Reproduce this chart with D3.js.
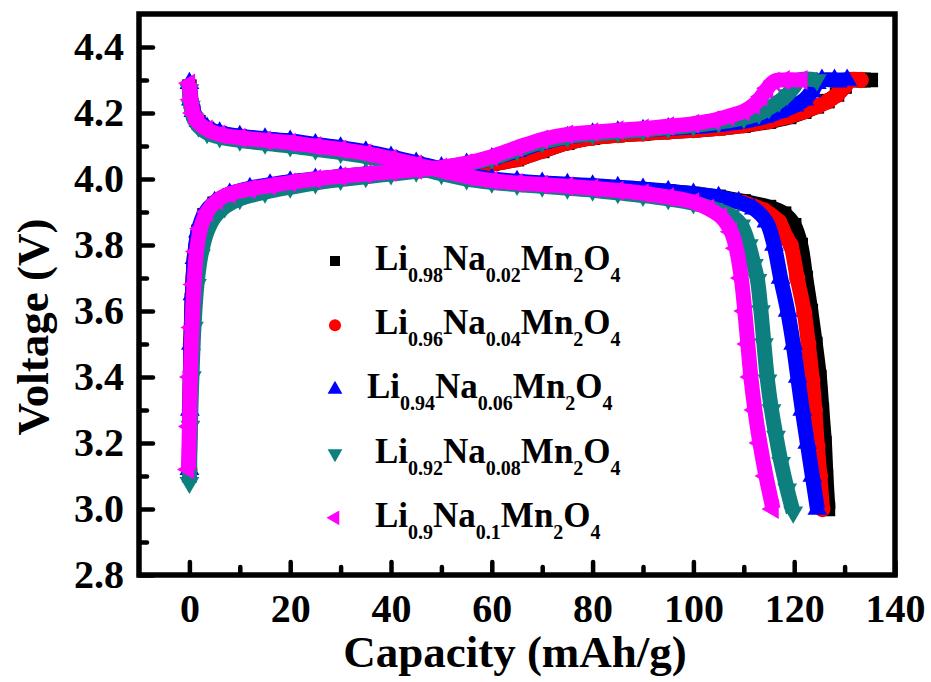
<!DOCTYPE html>
<html><head><meta charset="utf-8">
<script src="https://cdn.jsdelivr.net/npm/d3@7/dist/d3.min.js"></script>
<style>
html,body{margin:0;padding:0;background:#fff;}
svg{display:block;}
text{font-family:"Liberation Serif","Times New Roman",serif;font-weight:bold;fill:#000;}
</style></head>
<body>
<svg id="chart" width="931" height="682"></svg>
<script>
// ---------------- DATA ----------------
const seriesNames = ["Li0.98Na0.02Mn2O4","Li0.96Na0.04Mn2O4","Li0.94Na0.06Mn2O4","Li0.92Na0.08Mn2O4","Li0.9Na0.1Mn2O4"];
const liSub = ["0.98","0.96","0.94","0.92","0.9"];
const naSub = ["0.02","0.04","0.06","0.08","0.1"];
const xTicks = [0,20,40,60,80,100,120,140];
const xMinorTicks = [10,30,50,70,90,110,130];
const yTicks = [2.8,3.0,3.2,3.4,3.6,3.8,4.0,4.2,4.4];
const yMinorTicks = [2.9,3.1,3.3,3.5,3.7,3.9,4.1,4.3];

// charge curves [capacity mAh/g, voltage V]
const charge098 = [[0,3.12],[0.1,3.3],[0.3,3.5],[0.6,3.65],[1.0,3.76],[1.8,3.84],[3,3.89],[5,3.925],[8,3.95],[12,3.968],[16,3.98],[20,3.99],[25,3.998],[30,4.006],[35,4.013],[40,4.02],[45,4.026],[50,4.032],[55,4.038],[60,4.046],[65,4.06],[70,4.085],[75,4.11],[80,4.125],[85,4.133],[90,4.138],[95,4.143],[100,4.148],[105,4.154],[110,4.162],[115,4.174],[119,4.188],[122,4.204],[124.5,4.22],[126.6,4.236],[128.5,4.256],[130,4.28],[131,4.3],[133,4.3],[135.2,4.3]];
const charge096 = [[0,3.12],[0.1,3.3],[0.3,3.5],[0.6,3.65],[1.0,3.76],[1.8,3.84],[3,3.89],[5,3.925],[8,3.95],[12,3.968],[16,3.98],[20,3.99],[25,3.998],[30,4.006],[35,4.013],[40,4.02],[45,4.026],[50,4.032],[55,4.038],[60,4.046],[65,4.06],[70,4.085],[75,4.11],[80,4.125],[85,4.133],[90,4.138],[95,4.143],[100,4.148],[105,4.154],[110,4.163],[115,4.175],[119,4.19],[122,4.205],[124.5,4.22],[126.6,4.235],[128.5,4.255],[130,4.28],[131,4.3],[133.2,4.3]];
const charge094 = [[0,3.12],[0.1,3.3],[0.3,3.5],[0.6,3.65],[1.0,3.76],[1.7,3.84],[3,3.895],[5,3.93],[8,3.955],[12,3.972],[16,3.983],[20,3.992],[25,4.0],[30,4.008],[35,4.015],[40,4.022],[45,4.028],[50,4.035],[55,4.046],[60,4.062],[65,4.085],[70,4.11],[75,4.127],[80,4.137],[85,4.143],[90,4.148],[95,4.153],[100,4.158],[105,4.165],[110,4.175],[114,4.188],[117,4.203],[120,4.222],[122,4.24],[123.5,4.265],[124.5,4.29],[125.5,4.3],[128,4.3],[130.5,4.3]];
const charge092 = [[0,3.08],[0.2,3.25],[0.5,3.4],[0.9,3.55],[1.5,3.68],[2.3,3.77],[3.5,3.84],[5,3.885],[7,3.915],[10,3.94],[15,3.96],[20,3.975],[25,3.988],[30,3.998],[35,4.007],[40,4.015],[45,4.023],[50,4.032],[55,4.045],[60,4.063],[65,4.088],[70,4.112],[75,4.128],[80,4.136],[85,4.142],[90,4.148],[95,4.155],[100,4.162],[105,4.172],[110,4.185],[113,4.198],[115,4.215],[117,4.235],[118.6,4.255],[120,4.28],[121,4.3],[124.5,4.3]];
const charge090 = [[-0.2,3.12],[0.0,3.25],[0.2,3.4],[0.5,3.55],[0.9,3.68],[1.4,3.78],[2.2,3.85],[3.5,3.9],[5.5,3.935],[8,3.955],[12,3.97],[16,3.98],[20,3.99],[25,4.0],[30,4.008],[35,4.015],[40,4.022],[45,4.028],[50,4.035],[55,4.048],[60,4.068],[65,4.095],[70,4.12],[75,4.135],[80,4.142],[85,4.148],[90,4.153],[95,4.16],[100,4.168],[104,4.178],[107,4.19],[110,4.205],[112,4.225],[113.5,4.25],[114.7,4.275],[116,4.296],[118,4.3],[121.5,4.3]];

// discharge curves [capacity mAh/g, voltage V]
const discharge098 = [[0,4.28],[0.3,4.235],[0.8,4.2],[1.8,4.172],[3.5,4.152],[6,4.138],[10,4.128],[15,4.12],[20,4.113],[25,4.103],[30,4.093],[35,4.081],[40,4.065],[45,4.047],[50,4.028],[55,4.011],[60,3.998],[65,3.991],[70,3.986],[75,3.982],[80,3.978],[85,3.973],[90,3.968],[95,3.962],[100,3.955],[105,3.946],[110,3.932],[115,3.915],[118,3.895],[120,3.86],[121.3,3.8],[122.3,3.7],[123.3,3.6],[124.2,3.5],[125,3.4],[125.5,3.3],[126,3.2],[126.3,3.1],[126.7,3.0]];
const discharge096 = [[0,4.28],[0.3,4.235],[0.8,4.2],[1.8,4.172],[3.5,4.152],[6,4.138],[10,4.128],[15,4.12],[20,4.113],[25,4.103],[30,4.093],[35,4.081],[40,4.065],[45,4.047],[50,4.028],[55,4.011],[60,3.998],[65,3.991],[70,3.986],[75,3.982],[80,3.978],[85,3.973],[90,3.967],[95,3.96],[100,3.952],[105,3.942],[110,3.927],[114,3.905],[117,3.87],[118.5,3.82],[119.3,3.8],[120.6,3.7],[122,3.595],[122.8,3.5],[123.6,3.39],[124.1,3.3],[124.6,3.19],[125.1,3.1],[125.6,3.0]];
const discharge094 = [[0,4.29],[0.3,4.24],[0.8,4.205],[1.8,4.175],[3.5,4.155],[6,4.14],[10,4.13],[15,4.122],[20,4.115],[25,4.105],[30,4.095],[35,4.083],[40,4.067],[45,4.049],[50,4.03],[55,4.013],[60,4.0],[65,3.993],[70,3.988],[75,3.984],[80,3.98],[85,3.975],[90,3.97],[95,3.963],[100,3.955],[105,3.945],[109,3.93],[112,3.91],[114.5,3.87],[116,3.8],[117.3,3.7],[118.7,3.6],[119.8,3.5],[120.7,3.4],[121.6,3.3],[122.6,3.2],[123.6,3.1],[124.6,3.0]];
const discharge092 = [[0,4.27],[0.3,4.22],[0.8,4.185],[1.8,4.16],[3.5,4.14],[6,4.127],[10,4.117],[15,4.108],[20,4.1],[25,4.09],[30,4.08],[35,4.068],[40,4.052],[45,4.035],[50,4.016],[55,4.0],[60,3.99],[65,3.983],[70,3.978],[75,3.972],[80,3.966],[85,3.958],[90,3.95],[95,3.94],[100,3.927],[104,3.91],[107.4,3.89],[109.5,3.86],[111,3.8],[112,3.74],[112.7,3.695],[113.4,3.6],[114,3.5],[114.7,3.39],[115.5,3.3],[116.4,3.22],[117.4,3.14],[118.6,3.06],[119.8,2.99]];
const discharge090 = [[0,4.29],[0.3,4.24],[0.8,4.2],[1.8,4.17],[3.5,4.15],[6,4.135],[10,4.125],[15,4.117],[20,4.11],[25,4.1],[30,4.09],[35,4.078],[40,4.062],[45,4.044],[50,4.025],[55,4.008],[60,3.995],[65,3.988],[70,3.983],[75,3.978],[80,3.972],[85,3.965],[90,3.957],[95,3.945],[100,3.93],[103,3.91],[105.5,3.885],[107.5,3.84],[108.5,3.79],[109.5,3.7],[110.2,3.6],[110.8,3.5],[111.4,3.4],[112.2,3.3],[113.2,3.2],[114.4,3.1],[115.8,3.0]];

// ---------------- STYLE / LAYOUT ----------------
const chargeCurves = [charge098, charge096, charge094, charge092, charge090];
const dischargeCurves = [discharge098, discharge096, discharge094, discharge092, discharge090];
const colors = ["#000000","#ff0000","#0000ff","#0e7f7f","#ff00ff"];
const shapes = [
  {type:d3.symbolSquare, rot:0, size:210, lsize:100},
  {type:d3.symbolCircle, rot:0, size:210, lsize:115},
  {type:d3.symbolTriangle, rot:0, size:170, lsize:95},
  {type:d3.symbolTriangle, rot:180, size:170, lsize:95},
  {type:d3.symbolTriangle, rot:-90, size:170, lsize:95}
];
const legendDx = [0,0,-8,0,0];

const L = 139, R = 895, T = 14, B = 575;
const svg = d3.select("#chart");
const x = d3.scaleLinear().domain([-10,140]).range([L,R]);
const y = d3.scaleLinear().domain([2.8,4.5]).range([B,T]);

// curves
const line = d3.line().x(d=>x(d[0])).y(d=>y(d[1])).curve(d3.curveCatmullRom.alpha(0.5));
const plot = svg.append("g");
seriesNames.forEach((name,i)=>{
  const g = plot.append("g").attr("class","series");
  [chargeCurves[i], dischargeCurves[i]].forEach(data=>{
    g.append("path").attr("d", line(data))
      .attr("fill","none").attr("stroke",colors[i])
      .attr("stroke-width",15).attr("stroke-linejoin","round");
    const sym = d3.symbol().type(shapes[i].type).size(shapes[i].size);
    g.selectAll(null).data(data).enter().append("path")
      .attr("d", sym)
      .attr("transform", d=>`translate(${x(d[0])},${y(d[1])}) rotate(${shapes[i].rot})`)
      .attr("fill", colors[i]);
  });
});

// axes
const fontTick = 40;
const xAxis = d3.axisBottom(x).tickValues(xTicks).tickFormat(d3.format("d"))
  .tickSizeInner(-13).tickSizeOuter(0).tickPadding(19);
const xMinor = d3.axisBottom(x).tickValues(xMinorTicks).tickFormat("")
  .tickSizeInner(-8).tickSizeOuter(0);
const yAxis = d3.axisLeft(y).tickValues(yTicks).tickFormat(d3.format(".1f"))
  .tickSizeInner(-14).tickSizeOuter(0).tickPadding(15);
const yMinor = d3.axisLeft(y).tickValues(yMinorTicks).tickFormat("")
  .tickSizeInner(-8).tickSizeOuter(0);

function styleAxis(g){
  g.select(".domain").remove();
  g.selectAll(".tick line").attr("stroke","#000").attr("stroke-width",4.5).attr("stroke-linecap","round");
  g.selectAll(".tick text").attr("font-size",fontTick).attr("fill","#000")
    .style("font-family",'"Liberation Serif","Times New Roman",serif').style("font-weight","bold");
}
svg.append("g").attr("transform",`translate(0,${B})`).call(xAxis).call(styleAxis);
svg.append("g").attr("transform",`translate(0,${B})`).call(xMinor).call(styleAxis);
svg.append("g").attr("transform",`translate(${L},0)`).call(yAxis).call(styleAxis);
svg.append("g").attr("transform",`translate(${L},0)`).call(yMinor).call(styleAxis);

// frame
svg.append("rect").attr("x",L).attr("y",T).attr("width",R-L).attr("height",B-T)
  .attr("fill","none").attr("stroke","#000").attr("stroke-width",5.5);

// axis titles
svg.append("text").attr("x",(L+R)/2-2).attr("y",667).attr("text-anchor","middle")
  .attr("font-size",45).text("Capacity (mAh/g)");
svg.append("text").attr("transform","translate(48,327) rotate(-90)").attr("text-anchor","middle")
  .attr("font-size",45).text("Voltage (V)");

// legend
const leg = svg.append("g");
seriesNames.forEach((name,i)=>{
  const base = 270 + i*64.2;
  leg.append("path").attr("d", d3.symbol().type(shapes[i].type).size(shapes[i].lsize))
    .attr("transform",`translate(335,${base-9}) rotate(${shapes[i].rot})`)
    .attr("fill",colors[i]);
  const t = leg.append("text").attr("x",375+legendDx[i]).attr("y",base).attr("font-size",35);
  const parts = [["Li",0],[liSub[i],1],["Na",0],[naSub[i],1],["Mn",0],["2",1],["O",0],["4",1]];
  let sub = false;
  parts.forEach(p=>{
    const ts = t.append("tspan").text(p[0]);
    if(p[1] && !sub){ ts.attr("dy",12).attr("font-size",20); sub=true; }
    else if(p[1]){ ts.attr("font-size",20); }
    else if(!p[1] && sub){ ts.attr("dy",-12); sub=false; }
  });
});
</script>
</body></html>
